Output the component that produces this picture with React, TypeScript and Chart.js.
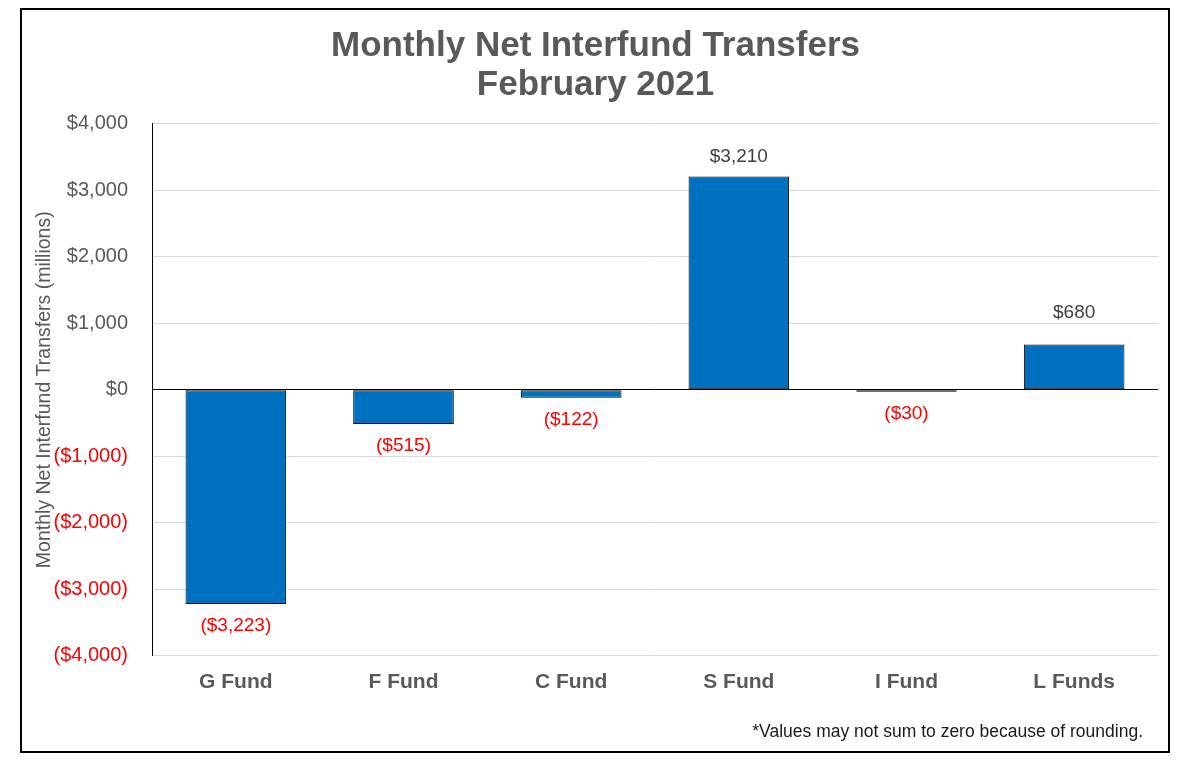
import React, { useEffect, useRef } from 'react';
import { Chart, registerables } from 'chart.js';

Chart.register(...registerables);

const categories = ['G Fund', 'F Fund', 'C Fund', 'S Fund', 'I Fund', 'L Funds'];
const netTransfers = [-3223, -515, -122, 3210, -30, 680];
const yMin = -4000;
const yMax = 4000;
const yStep = 1000;
const titleLines = ['Monthly Net Interfund Transfers', 'February 2021'];
const yAxisTitle = 'Monthly Net Interfund Transfers (millions)';
const footnote = '*Values may not sum to zero because of rounding.';

const FONT = '"Liberation Sans", Arial, Helvetica, sans-serif';

function fmt(v: number): string {
  const s = '$' + Math.abs(v).toLocaleString('en-US');
  return v < 0 ? '(' + s + ')' : s;
}

const dataLabelPlugin = {
  id: 'dataLabels',
  afterDatasetsDraw(chart: any, _args: any, opts: any) {
    const ctx = chart.ctx;
    const meta = chart.getDatasetMeta(0);
    const extra: number[] = (opts && opts.extraLift) || [];
    ctx.save();
    ctx.font = `19px ${FONT}`;
    ctx.textAlign = 'center';
    ctx.textBaseline = 'middle';
    meta.data.forEach((el: any, i: number) => {
      const v = netTransfers[i];
      const { x, y } = el.getProps(['x', 'y'], true);
      const lift = extra[i] || 0;
      ctx.fillStyle = v < 0 ? '#FF0000' : '#404040';
      ctx.fillText(fmt(v), x, v < 0 ? y + 22 : y - 20 - lift);
    });
    ctx.restore();
  },
};

const footnotePlugin = {
  id: 'footnote',
  afterDraw(chart: any) {
    const ctx = chart.ctx;
    ctx.save();
    ctx.font = `17.5px ${FONT}`;
    ctx.textAlign = 'right';
    ctx.textBaseline = 'middle';
    ctx.fillStyle = '#1a1a1a';
    ctx.fillText(footnote, 1135, 724);
    ctx.restore();
  },
};

export default function App() {
  const canvasRef = useRef<HTMLCanvasElement | null>(null);

  useEffect(() => {
    if (!canvasRef.current) return;
    Chart.defaults.font.family = FONT;
    const chart = new Chart(canvasRef.current, {
      type: 'bar',
      data: {
        labels: categories,
        datasets: [
          {
            data: netTransfers,
            backgroundColor: '#0070C0',
            borderColor: '#000000',
            borderWidth: 1,
            borderSkipped: false,
            barPercentage: 0.6,
            categoryPercentage: 1,
          },
        ],
      },
      options: {
        animation: false,
        responsive: true,
        maintainAspectRatio: false,
        layout: { padding: { left: 25, right: 25, top: 0, bottom: 66.5 } },
        plugins: {
          legend: { display: false },
          tooltip: { enabled: false },
          dataLabels: { extraLift: [0, 0, 0, 0, 0, 12] },
          title: {
            display: true,
            text: titleLines,
            color: '#595959',
            font: { size: 35, weight: 'bold', lineHeight: 1.114 },
            padding: { top: 19, bottom: 19 },
          },
        },
        scales: {
          x: {
            grid: { display: false },
            border: { display: false },
            ticks: {
              color: '#595959',
              font: { size: 21, weight: 'bold' },
              padding: 6,
              autoSkip: false,
              maxRotation: 0,
            },
            afterFit: (s: any) => {
              s.height = 40;
            },
          },
          y: {
            min: yMin,
            max: yMax,
            ticks: {
              stepSize: yStep,
              callback: (v: any) => fmt(Number(v)),
              color: (c: any) => (c.tick && c.tick.value < 0 ? '#FF0000' : '#595959'),
              font: { size: 20 },
              padding: 24,
            },
            grid: {
              color: (c: any) => (c.tick && c.tick.value === 0 ? '#000000' : '#d9d9d9'),
              drawTicks: false,
              lineWidth: 1,
            },
            border: { display: true, color: '#000000', width: 1 },
            title: {
              display: true,
              text: yAxisTitle,
              color: '#595959',
              font: { size: 19.5 },
              padding: { top: 0, bottom: 0 },
            },
            afterFit: (s: any) => {
              s.width = 119;
            },
          },
        },
      } as any,
      plugins: [dataLabelPlugin, footnotePlugin],
    });
    return () => chart.destroy();
  }, []);

  return (
    <div style={{ position: 'relative', width: 1175, height: 754 }}>
      <div style={{ position: 'absolute', left: 0, top: 0, width: 1175, height: 754 }}>
        <canvas ref={canvasRef} />
      </div>
      <div
        style={{
          position: 'absolute',
          left: 12,
          top: 0,
          width: 1150,
          height: 745,
          boxSizing: 'border-box',
          border: '2px solid #000',
          pointerEvents: 'none',
        }}
      />
    </div>
  );
}
